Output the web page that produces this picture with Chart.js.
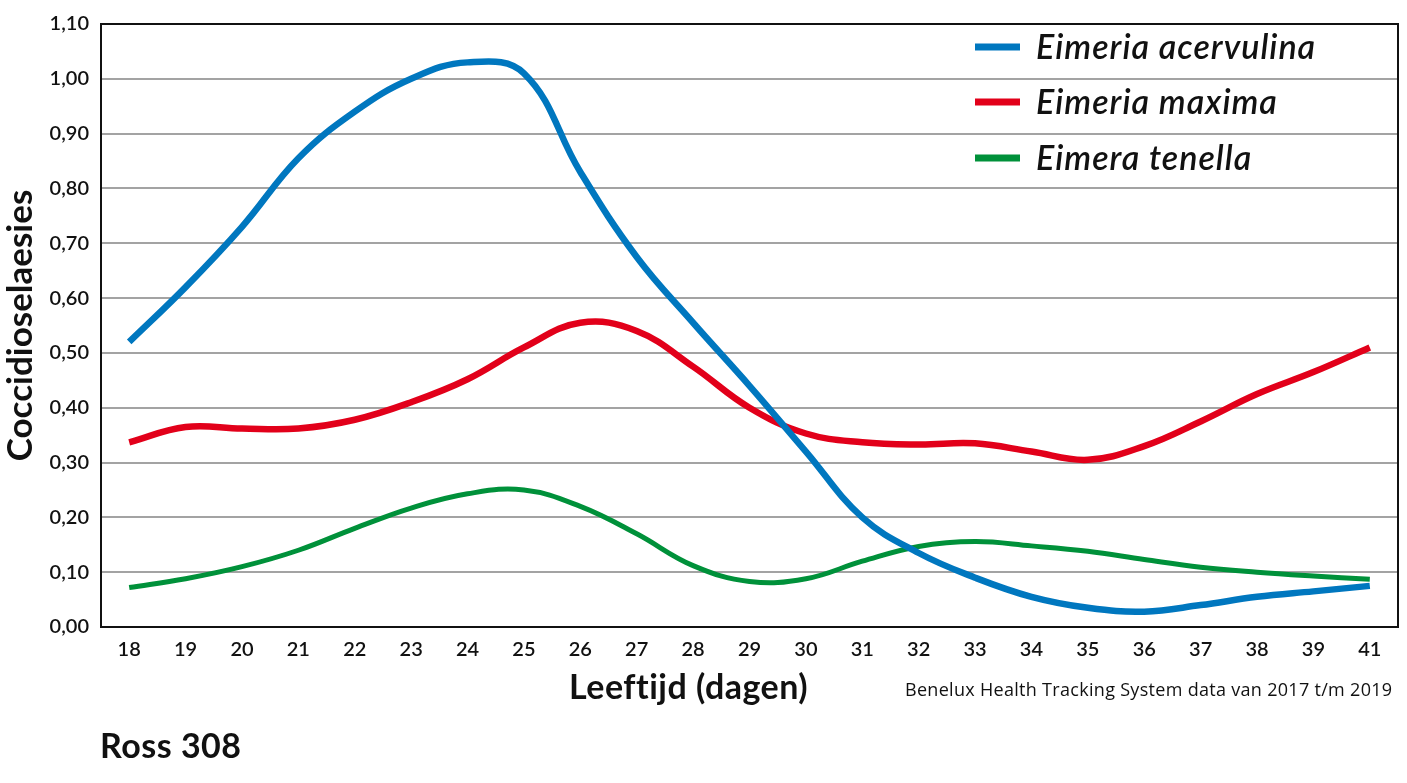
<!DOCTYPE html>
<html>
<head>
<meta charset="utf-8">
<script src="https://cdn.jsdelivr.net/npm/chart.js@4"></script>
<style>
  html, body { margin: 0; padding: 0; background: #fff; }
  #wrap { position: relative; width: 1407px; height: 783px; }
  canvas { position: absolute; left: 0; top: 0; }
  .txt { position: absolute; color: #111; font-family: Lato, "Open Sans", sans-serif; white-space: nowrap; }
  #xtitle { left: 569px; top: 665px; font-size: 34px; font-weight: 700; letter-spacing: 0.5px; }
  #source { left: 905px; top: 677px; font-size: 18px; font-family: "Open Sans", sans-serif; letter-spacing: 0.3px; }
  #ross { left: 100px; top: 724px; font-size: 34px; font-weight: 700; letter-spacing: 0.5px; }
</style>
</head>
<body>
<div id="wrap">
  <canvas id="chart" width="1407" height="783"></canvas>
  <div class="txt" id="xtitle">Leeftijd (dagen)</div>
  <div class="txt" id="source">Benelux Health Tracking System data van 2017 t/m 2019</div>
  <div class="txt" id="ross">Ross 308</div>
</div>
<script>
const days = ['18','19','20','21','22','23','24','25','26','27','28','29','30','31','32','33','34','35','36','37','38','39','41'];

const acervulina = [0.52, 0.62, 0.73, 0.855, 0.94, 1.00, 1.03, 1.01, 0.83, 0.675, 0.555, 0.44, 0.32, 0.20, 0.135, 0.09, 0.055, 0.035, 0.028, 0.04, 0.055, 0.065, 0.075];
const maxima = [0.337, 0.365, 0.362, 0.362, 0.378, 0.41, 0.452, 0.51, 0.555, 0.54, 0.475, 0.40, 0.353, 0.337, 0.333, 0.335, 0.32, 0.305, 0.33, 0.375, 0.425, 0.465, 0.51];
const tenella = [0.072, 0.088, 0.11, 0.14, 0.18, 0.217, 0.243, 0.25, 0.22, 0.17, 0.112, 0.083, 0.088, 0.12, 0.147, 0.156, 0.148, 0.138, 0.123, 0.109, 0.10, 0.093, 0.087];

const labels = ['Eimeria acervulina', 'Eimeria maxima', 'Eimera tenella'];
const colors = ['#0077bf', '#e2001a', '#00913a'];

// border round the plot + legend inside the plot, top right
const boxAndLegend = {
  id: 'boxAndLegend',
  afterDraw(chart) {
    const ctx = chart.ctx;
    const a = chart.chartArea;
    ctx.save();
    ctx.strokeStyle = '#111';
    ctx.lineWidth = 2;
    ctx.strokeRect(a.left, a.top, a.right - a.left, a.bottom - a.top);

    const rows = [47, 102, 158];
    chart.data.datasets.forEach((ds, i) => {
      ctx.strokeStyle = ds.borderColor;
      ctx.lineWidth = 7;
      ctx.beginPath();
      ctx.moveTo(975, rows[i]);
      ctx.lineTo(1020, rows[i]);
      ctx.stroke();
      ctx.fillStyle = '#111';
      ctx.font = 'italic 600 34px Lato, "Open Sans", sans-serif';
      ctx.textBaseline = 'middle';
      ctx.textAlign = 'left';
      if ('letterSpacing' in ctx) ctx.letterSpacing = '1px';
      ctx.fillText(ds.label, 1036, rows[i] + 1);
    });
    ctx.restore();
  }
};

new Chart(document.getElementById('chart'), {
  type: 'line',
  data: {
    labels: days,
    datasets: [
      { label: labels[0], data: acervulina, borderColor: colors[0], borderWidth: 6.5 },
      { label: labels[1], data: maxima, borderColor: colors[1], borderWidth: 6.5 },
      { label: labels[2], data: tenella, borderColor: colors[2], borderWidth: 5 }
    ]
  },
  options: {
    responsive: false,
    animation: false,
    layout: { padding: { top: 19, right: 9, left: 0, bottom: 0 } },
    elements: {
      point: { radius: 0 },
      line: { tension: 0.4, borderCapStyle: 'butt' }
    },
    plugins: { legend: { display: false }, tooltip: { enabled: false } },
    scales: {
      x: {
        offset: true,
        grid: { display: false, drawTicks: false },
        border: { display: true, color: '#111', width: 2 },
        ticks: { color: '#111', padding: 11, font: { family: 'Lato', size: 20, weight: '600' }, maxRotation: 0, autoSkip: false },
        afterFit(scale) { scale.height = 156; }
      },
      y: {
        min: 0,
        max: 1.1,
        grid: { color: '#a3a3a3', lineWidth: 2, drawTicks: false },
        border: { display: true, color: '#111', width: 2 },
        ticks: {
          stepSize: 0.1,
          color: '#111',
          padding: 12,
          font: { family: 'Lato', size: 20, weight: '600' },
          callback: v => v.toFixed(2).replace('.', ',')
        },
        title: {
          display: true,
          text: 'Coccidioselaesies',
          color: '#111',
          font: { family: 'Lato', size: 35, weight: '700' },
          padding: { top: 0, bottom: 0 }
        },
        afterFit(scale) { scale.width = 101; }
      }
    }
  },
  plugins: [boxAndLegend]
});
</script>
</body>
</html>
